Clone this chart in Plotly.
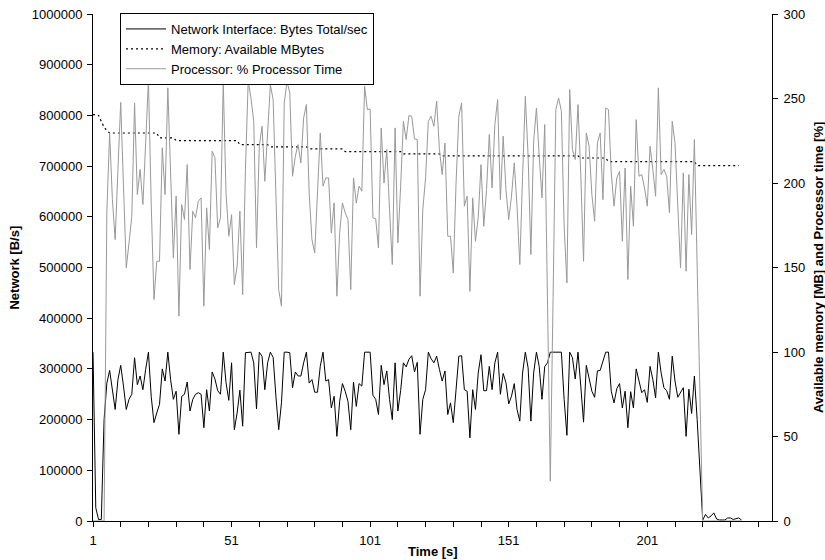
import plotly.graph_objects as go

# ---------------- data ----------------
network_bps = [
    333000, 26000, 3000, 3000, 200000, 272000, 297000, 259000, 220000, 279000,
    307000, 266000, 220000, 240000, 250000, 322000, 269000, 286000, 259000, 299000,
    333000, 246000, 194000, 213000, 230000, 300000, 276000, 333000, 279000, 240000,
    256000, 171000, 246000, 250000, 274000, 217000, 240000, 250000, 253000, 250000,
    184000, 259000, 217000, 294000, 280000, 257000, 250000, 333000, 273000, 238000,
    312000, 180000, 213000, 258000, 187000, 332000, 333000, 333000, 312000, 221000,
    333000, 325000, 259000, 312000, 333000, 323000, 246000, 180000, 233000, 333000,
    333000, 332000, 263000, 294000, 286000, 286000, 312000, 333000, 272000, 279000,
    254000, 254000, 305000, 333000, 276000, 279000, 223000, 246000, 167000, 236000,
    271000, 256000, 236000, 180000, 274000, 226000, 271000, 266000, 333000, 333000,
    333000, 248000, 240000, 210000, 307000, 269000, 296000, 240000, 200000, 312000,
    217000, 257000, 312000, 304000, 319000, 326000, 294000, 313000, 171000, 240000,
    259000, 333000, 320000, 312000, 325000, 299000, 276000, 296000, 210000, 233000,
    194000, 259000, 325000, 326000, 259000, 256000, 164000, 259000, 220000, 292000,
    328000, 257000, 257000, 305000, 259000, 312000, 333000, 250000, 291000, 273000,
    231000, 246000, 271000, 220000, 197000, 292000, 333000, 302000, 197000, 292000,
    333000, 305000, 240000, 305000, 312000, 333000, 333000, 333000, 332000, 333000,
    240000, 169000, 333000, 322000, 280000, 333000, 266000, 195000, 307000, 282000,
    256000, 244000, 296000, 297000, 315000, 333000, 333000, 256000, 233000, 261000,
    271000, 223000, 256000, 184000, 255000, 223000, 300000, 277000, 253000, 259000,
    234000, 305000, 279000, 243000, 333000, 292000, 263000, 257000, 240000, 325000,
    276000, 244000, 254000, 263000, 167000, 260000, 212000, 286000, 200000, 100000,
    2000, 13000, 6000, 10000, 16000, 4000, 2000, 2000, 2000, 6000,
    6000, 3000, 4000, 6000, 2000,
]

memory_mb = [
    240.5, 240.5, 240.0, 236.0, 233.0, 231.0, 229.6, 229.6, 229.6, 229.6,
    229.6, 229.6, 229.6, 229.6, 229.6, 229.6, 229.6, 229.6, 229.6, 229.6,
    229.6, 229.6, 229.6, 229.6, 226.7, 226.7, 226.7, 226.7, 226.7, 226.7,
    225.1, 225.1, 225.1, 225.1, 225.1, 225.1, 225.1, 225.1, 225.1, 225.1,
    225.1, 225.1, 225.1, 225.1, 225.1, 225.1, 225.1, 225.1, 225.1, 225.1,
    225.1, 225.1, 225.1, 222.7, 222.7, 222.7, 222.7, 222.7, 222.7, 222.7,
    222.7, 222.7, 222.7, 222.7, 221.4, 221.4, 221.4, 221.4, 221.4, 221.4,
    221.4, 221.4, 221.4, 221.4, 221.4, 221.4, 221.4, 221.4, 220.2, 220.2,
    220.2, 220.2, 220.2, 220.2, 220.2, 220.2, 220.2, 220.2, 220.2, 220.2,
    220.2, 218.6, 218.6, 218.6, 218.6, 218.6, 218.6, 218.6, 218.6, 218.6,
    218.6, 218.6, 218.6, 218.6, 218.6, 218.6, 218.6, 218.6, 218.6, 218.6,
    218.6, 218.6, 217.2, 217.2, 217.2, 217.2, 217.2, 217.2, 217.2, 217.2,
    217.2, 217.2, 217.2, 217.2, 217.2, 217.2, 216.0, 216.0, 216.0, 216.0,
    216.0, 216.0, 216.0, 216.0, 216.0, 216.0, 216.0, 216.0, 216.0, 216.0,
    216.0, 216.0, 216.0, 216.0, 216.0, 216.0, 216.0, 216.0, 216.0, 216.0,
    216.0, 216.0, 216.0, 216.0, 216.0, 216.0, 216.0, 216.0, 216.0, 216.0,
    216.0, 216.0, 216.0, 216.0, 216.0, 216.0, 216.0, 216.0, 216.0, 216.0,
    216.0, 216.0, 216.0, 216.0, 216.0, 216.0, 214.8, 214.8, 214.8, 214.8,
    214.8, 214.8, 214.8, 214.8, 214.8, 214.8, 212.6, 212.6, 212.6, 212.6,
    212.6, 212.6, 212.6, 212.6, 212.6, 212.6, 212.6, 212.6, 212.6, 212.6,
    212.6, 212.6, 212.6, 212.6, 212.6, 212.6, 212.6, 212.6, 212.6, 212.6,
    212.6, 212.6, 212.6, 212.6, 212.6, 212.6, 212.6, 212.6, 210.3, 210.3,
    210.3, 210.3, 210.3, 210.3, 210.3, 210.3, 210.3, 210.3, 210.3, 210.3,
    210.3, 210.3, 210.3, 210.3,
]

processor_pct = [
    0, 0, 0, 0, 0, 183.3, 229.6, 190.2, 166.5, 208.0,
    247.7, 198.1, 149.8, 164.6, 180.3, 247.4, 193.2, 208.0, 187.3, 223.7,
    261.2, 188.2, 131.0, 153.7, 153.7, 220.8, 193.2, 256.3, 206.0, 155.7,
    192.2, 121.2, 187.3, 178.4, 210.9, 148.8, 183.3, 179.4, 189.2, 191.2,
    127.1, 185.3, 160.6, 218.8, 214.9, 173.4, 179.4, 259.2, 194.2, 168.5,
    181.3, 139.9, 150.8, 183.3, 134.0, 208.0, 260.2, 250.3, 236.5, 161.6,
    221.8, 233.6, 201.0, 233.6, 258.2, 249.4, 188.2, 136.9, 127.1, 247.4,
    260.2, 253.3, 204.0, 215.8, 222.7, 211.9, 238.5, 246.4, 194.2, 166.5,
    158.6, 198.1, 229.6, 198.1, 203.0, 203.0, 170.5, 188.2, 133.0, 170.5,
    188.2, 182.3, 178.4, 136.9, 203.0, 188.2, 198.1, 195.1, 257.3, 243.4,
    243.8, 179.4, 178.8, 161.6, 232.6, 200.0, 219.8, 184.3, 151.8, 232.6,
    164.6, 198.1, 236.5, 225.7, 239.9, 239.5, 226.1, 225.7, 133.0, 184.3,
    203.0, 236.5, 239.5, 233.6, 248.4, 219.8, 205.0, 223.7, 168.5, 168.5,
    146.8, 200.0, 239.5, 247.4, 186.3, 192.2, 135.9, 191.2, 165.5, 179.4,
    210.9, 174.4, 196.1, 228.7, 197.1, 234.6, 249.4, 190.2, 227.7, 196.1,
    178.4, 192.2, 211.9, 186.3, 151.8, 204.0, 251.3, 215.8, 157.7, 224.7,
    244.4, 215.8, 191.2, 234.6, 131.0, 23.6, 131.0, 243.4, 250.3, 242.5,
    174.4, 140.9, 255.3, 219.8, 213.9, 246.4, 205.0, 153.7, 229.6, 221.8,
    193.2, 177.4, 223.7, 229.6, 190.2, 244.4, 243.4, 206.0, 186.3, 203.0,
    206.9, 165.5, 208.9, 142.9, 198.1, 174.4, 237.5, 204.0, 205.0, 197.1,
    186.3, 221.8, 208.0, 192.2, 256.3, 205.0, 208.0, 204.0, 182.3, 236.5,
    223.7, 190.2, 149.8, 206.0, 147.8, 205.0, 169.5, 225.7, 150.8, 75.8,
    0, 0, 0, 0, 0, 0, 0, 0, 0, 0,
    0, 0, 0, 0, 0,
]

x_tick_labels = ["1", "51", "101", "151", "201"]
x_tick_values = [1, 51, 101, 151, 201]
n_categories = 246

t_network = list(range(1, len(network_bps) + 1))
t_memory = list(range(1, len(memory_mb) + 1))
t_processor = list(range(1, len(processor_pct) + 1))

FONT = "Liberation Sans, Arial, sans-serif"

fig = go.Figure()
fig.add_trace(go.Scatter(
    x=t_network, y=network_bps, mode="lines",
    name="Network Interface: Bytes Total/sec",
    line=dict(color="#000000", width=1),
    legendgroup="a", yaxis="y",
))
fig.add_trace(go.Scatter(
    x=t_memory, y=memory_mb, mode="lines",
    name="Memory: Available MBytes",
    line=dict(color="#000000", width=1.2, dash="2px,3px"),
    legendgroup="b", yaxis="y2",
))
fig.add_trace(go.Scatter(
    x=t_processor, y=processor_pct, mode="lines",
    name="Processor: % Processor Time",
    line=dict(color="#999999", width=1),
    legendgroup="c", yaxis="y2",
))

axis_common = dict(
    showline=True, linecolor="#000000", linewidth=1,
    ticks="outside", ticklen=5, tickcolor="#000000", tickwidth=1,
    showgrid=False, zeroline=False, automargin=False,
    tickfont=dict(family=FONT, size=13, color="#000000"),
)

fig.update_layout(
    width=825, height=560,
    margin=dict(l=93, r=53, t=14, b=38.5, autoexpand=False),
    paper_bgcolor="#ffffff", plot_bgcolor="#ffffff",
    font=dict(family=FONT, size=13, color="#000000"),
    xaxis=dict(
        range=[1, n_categories],
        tickmode="array", tickvals=x_tick_values, ticktext=x_tick_labels,
        minor=dict(tickmode="linear", tick0=1, dtick=10, ticks="outside",
                   ticklen=5, tickcolor="#000000", tickwidth=1, showgrid=False),
        ticklabelstandoff=2,
        **axis_common,
    ),
    yaxis=dict(
        range=[0, 1000000], dtick=100000, tickformat="d",
        ticklabelstandoff=2,
        **axis_common,
    ),
    yaxis2=dict(
        range=[0, 300], dtick=50, overlaying="y", side="right",
        ticklabelstandoff=3,
        **axis_common,
    ),
    showlegend=True,
    legend=dict(
        x=0.0398, y=1.002, xanchor="left", yanchor="top",
        bgcolor="#ffffff", bordercolor="#000000", borderwidth=1,
        font=dict(family=FONT, size=13, color="#000000"),
        itemwidth=40, tracegroupgap=0,
    ),
    annotations=[
        dict(text="<b>Time [s]</b>", x=0.5, y=-0.0595, xref="paper", yref="paper",
             xanchor="center", yanchor="middle", showarrow=False,
             font=dict(family=FONT, size=13, color="#000000")),
        dict(text="<b>Network [B/s]</b>", x=-0.1163, y=0.5, xref="paper", yref="paper",
             xanchor="center", yanchor="middle", showarrow=False, textangle=-90,
             font=dict(family=FONT, size=13, color="#000000")),
        dict(text="<b>Available memory [MB] and Processor time [%]</b>",
             x=1.0686, y=0.5, xref="paper", yref="paper",
             xanchor="center", yanchor="middle", showarrow=False, textangle=-90,
             font=dict(family=FONT, size=13, color="#000000")),
    ],
)

# remove the default 8px page margin so the 825x560 figure fills the window
fig.write_html(
    "out.html",
    config={"displayModeBar": False},
    post_script="document.body.style.margin='0px';",
)
